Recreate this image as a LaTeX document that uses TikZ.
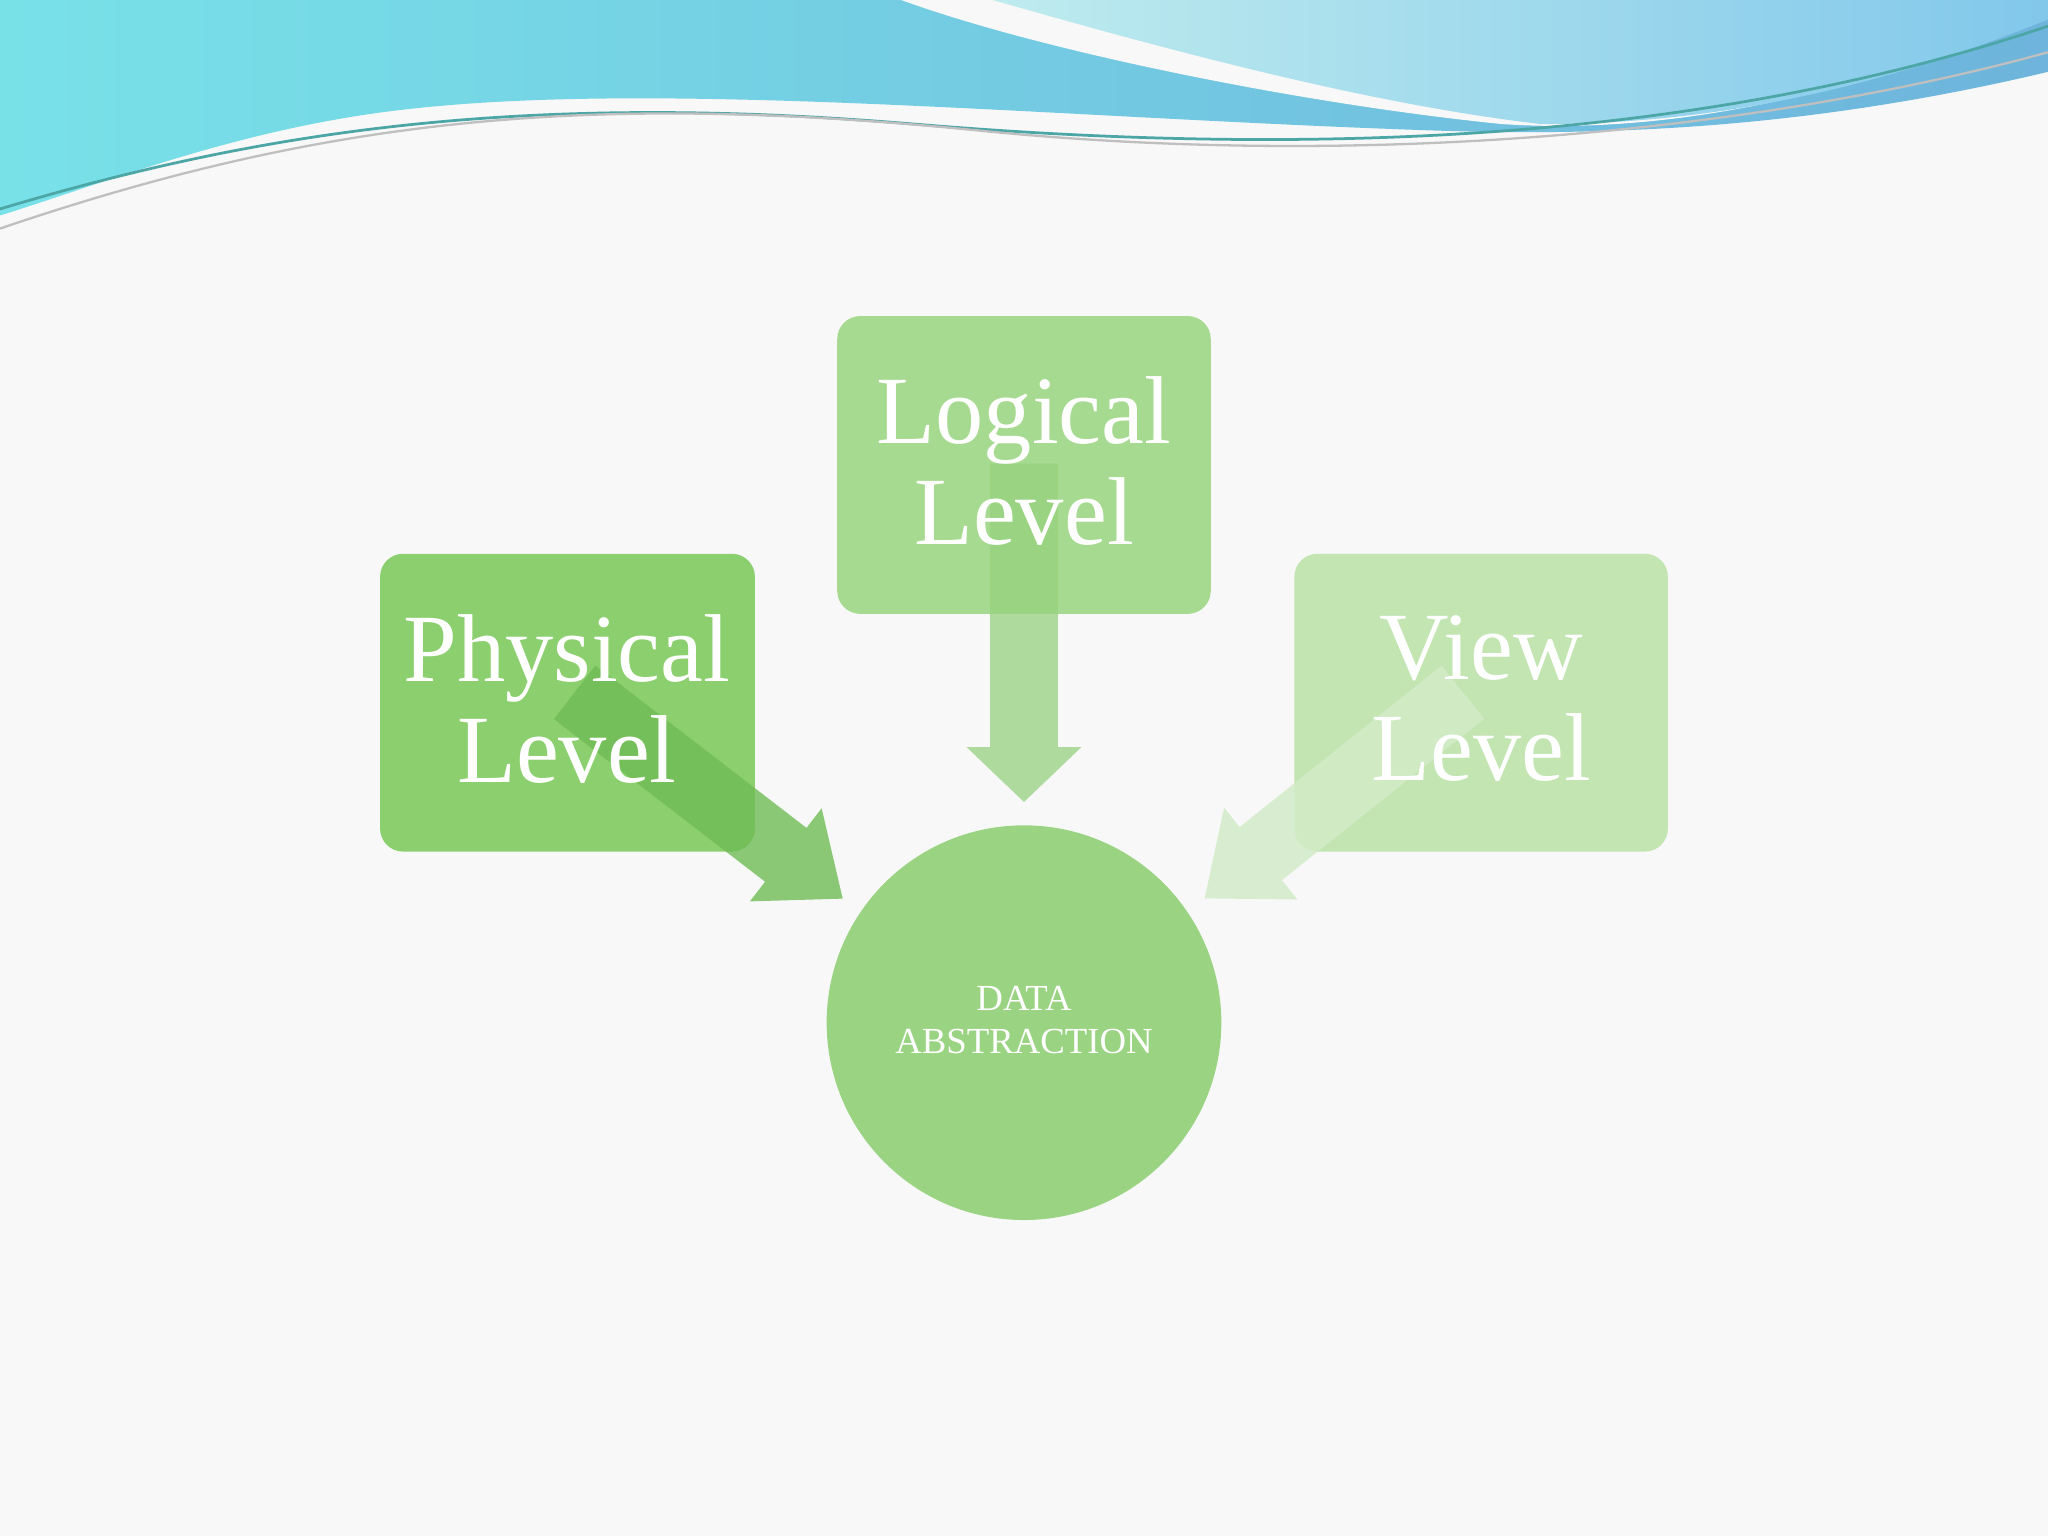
\documentclass[tikz,border=0pt]{standalone}
\usepackage{fontspec}
\setmainfont{Liberation Serif}
\definecolor{physbox}{HTML}{8CCF6F}
\definecolor{logbox}{HTML}{A6DA90}
\definecolor{viewbox}{HTML}{C2E5B2}
\definecolor{circ}{HTML}{9AD483}
\definecolor{physarr}{HTML}{6FBC55}
\definecolor{logarr}{HTML}{96D27F}
\definecolor{viewarr}{HTML}{D3ECC8}
\definecolor{bg}{HTML}{F8F8F8}
\begin{document}
\begin{tikzpicture}[x=0.01cm,y=-0.01cm,
  box/.style={rounded corners=5pt},
  lbl/.style={text=white,align=center,font=\fontsize{21}{22}\selectfont}]
\useasboundingbox (0,0) rectangle (1568,1176);
\fill[bg] (0,0) rectangle (1568,1176);
% top waves
\shade[left color={rgb,255:red,120;green,225;blue,232}, right color={rgb,255:red,110;green,180;blue,220}]
  (0,0) -- (1568,0) -- (1568,55) .. controls (1400,95) and (1250,105) .. (1100,100)
  .. controls (800,90) and (500,60) .. (300,85) .. controls (180,100) and (80,140) .. (0,165) -- cycle;
\fill[bg] (690,0) .. controls (800,40) and (1000,80) .. (1150,95)
  .. controls (1300,105) and (1450,60) .. (1568,10) -- (1568,0) -- cycle;
\shade[left color={rgb,255:red,190;green,235;blue,238}, right color={rgb,255:red,130;green,200;blue,235}]
  (760,0) .. controls (900,40) and (1050,80) .. (1180,95)
  .. controls (1350,95) and (1480,50) .. (1568,15) -- (1568,0) -- cycle;
\draw[teal!70,line width=0.6pt] (0,160) .. controls (200,100) and (400,70) .. (700,95)
  .. controls (1000,120) and (1300,110) .. (1568,20);
\draw[gray!50,line width=0.5pt] (0,175) .. controls (250,90) and (450,70) .. (750,100)
  .. controls (1050,130) and (1350,100) .. (1568,40);
% boxes and circle
\node[circle,fill=circ,draw=none,minimum size=3.02cm] (c) at (784,783) {};
\fill[box,fill=physbox] (291,424) rectangle (578,652);
\fill[box,fill=logbox] (641,242) rectangle (927,470);
\fill[box,fill=viewbox] (991,424) rectangle (1277,652);
% arrows
\fill[physarr,opacity=0.8,shift={(440,530)},rotate=-37.6]
  (0,-26) -- (204,-26) -- (204,-45) -- (259,0) -- (204,45) -- (204,26) -- (0,26) -- cycle;
\fill[logarr,opacity=0.75,shift={(784,355)},rotate=-90]
  (0,-26) -- (217,-26) -- (217,-44) -- (259,0) -- (217,44) -- (217,26) -- (0,26) -- cycle;
\fill[viewarr,opacity=0.85,shift={(1120,530)},rotate=-141.4]
  (0,-26) -- (198,-26) -- (198,-45) -- (253,0) -- (198,45) -- (198,26) -- (0,26) -- cycle;
\node[lbl] (p) at (434,535) {Physical\\Level};
\node[lbl] (l) at (784,353) {Logical\\Level};
\node[lbl] (v) at (1134,535) {View\\Level};
\node[text=white,align=center,font=\fontsize{8}{9.4}\selectfont] (d) at (784,781) {DATA\\ABSTRACTION};
\end{tikzpicture}
\end{document}
